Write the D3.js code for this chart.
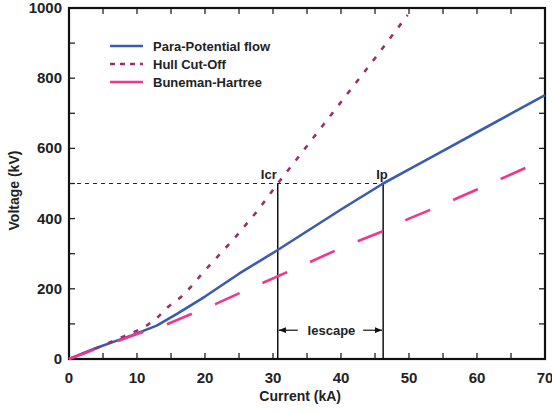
<!DOCTYPE html>
<html>
<head>
<meta charset="utf-8">
<script src="https://cdn.jsdelivr.net/npm/d3@7"></script>
<style>
  body { margin: 0; background: #fff; }
  text { font-family: "Liberation Sans", Arial, sans-serif; font-weight: bold; }
</style>
</head>
<body>
<div id="chart"></div>
<script>
// curves (kA, kV)
var paraI = [0, 3.8, 9.3, 12.9, 16, 20, 25, 30.4, 35, 40, 46.2, 50, 55, 60, 65, 70];
var paraV = [0, 30, 68, 95, 130, 178, 243, 307, 364, 426, 500, 540, 593, 646, 699, 752];

var hullI = [0, 3, 6, 9.3, 11, 12.9, 14.6, 16.5, 18.2, 19.7, 24.6, 27.8, 30.7, 35, 40, 45, 49.8];
var hullV = [0, 22, 47, 75, 89, 116, 149, 177, 211, 246, 350, 424, 500, 607, 732, 857, 980];

var bhI = [0, 5, 10, 14.4, 18, 21.6, 25, 32.4, 40, 46.9, 50, 54, 60, 68.4];
var bhV = [0, 36, 71, 99, 128, 157, 187, 250, 316, 370, 400, 432, 483, 555];

var Icr = 30.7, Ip = 46.2, Vop = 500;

var xTicks = [0, 10, 20, 30, 40, 50, 60, 70];
var yTicks = [0, 200, 400, 600, 800, 1000];

var margin = {top: 8, right: 7, bottom: 54, left: 69},
    width = 552 - margin.left - margin.right,
    height = 413 - margin.top - margin.bottom;

var svg = d3.select("#chart")
  .append("svg")
    .attr("width", 552)
    .attr("height", 413)
  .append("g")
    .attr("transform", "translate(" + margin.left + "," + margin.top + ")");

var x = d3.scaleLinear().domain([0, 70]).range([0, width]);
var y = d3.scaleLinear().domain([0, 1000]).range([height, 0]);

// inward ticks on all four sides
var xMinor = d3.range(0, 71, 5), yMinor = d3.range(0, 1001, 100);
function ticks(g, vals, fn) {
  g.selectAll("line").data(vals).enter().append("line")
    .attr("stroke", "#222").attr("stroke-width", 1.3)
    .each(fn);
}
ticks(svg.append("g"), xMinor, function(d) {
  d3.select(this).attr("x1", x(d)).attr("x2", x(d)).attr("y1", height).attr("y2", height - 6);
});
ticks(svg.append("g"), xMinor, function(d) {
  d3.select(this).attr("x1", x(d)).attr("x2", x(d)).attr("y1", 0).attr("y2", 6);
});
ticks(svg.append("g"), yMinor, function(d) {
  d3.select(this).attr("x1", 0).attr("x2", 6).attr("y1", y(d)).attr("y2", y(d));
});
ticks(svg.append("g"), yMinor, function(d) {
  d3.select(this).attr("x1", width).attr("x2", width - 6).attr("y1", y(d)).attr("y2", y(d));
});

// tick labels
svg.append("g").selectAll("text").data(xTicks).enter().append("text")
  .attr("x", d => x(d)).attr("y", height + 24)
  .attr("text-anchor", "middle").attr("font-size", 15).attr("fill", "#222")
  .text(d => d);
svg.append("g").selectAll("text").data(yTicks).enter().append("text")
  .attr("x", -7).attr("y", d => y(d) + 5)
  .attr("text-anchor", "end").attr("font-size", 15).attr("fill", "#222")
  .text(d => d);

// frame
svg.append("rect")
  .attr("width", width).attr("height", height)
  .attr("fill", "none").attr("stroke", "#111").attr("stroke-width", 2.2);

// axis titles
svg.append("text")
  .attr("x", x(34)).attr("y", height + 42)
  .attr("text-anchor", "middle").attr("font-size", 14).attr("fill", "#222")
  .text("Current (kA)");
svg.append("text")
  .attr("transform", "translate(" + (-50) + "," + y(480) + ") rotate(-90)")
  .attr("text-anchor", "middle").attr("font-size", 14).attr("fill", "#222")
  .text("Voltage (kV)");

// operating lines
svg.append("line")
  .attr("x1", x(0)).attr("x2", x(Ip)).attr("y1", y(Vop)).attr("y2", y(Vop))
  .attr("stroke", "#222").attr("stroke-width", 1.2).attr("stroke-dasharray", "4,4");
[Icr, Ip].forEach(function(v) {
  svg.append("line")
    .attr("x1", x(v)).attr("x2", x(v)).attr("y1", y(0)).attr("y2", y(Vop))
    .attr("stroke", "#111").attr("stroke-width", 1.5);
});
svg.append("text").attr("x", x(Icr) - 1).attr("y", y(Vop) - 5)
  .attr("text-anchor", "end").attr("font-size", 13).attr("fill", "#222").text("Icr");
svg.append("text").attr("x", x(Ip) - 7).attr("y", y(Vop) - 5)
  .attr("font-size", 13).attr("fill", "#222").text("Ip");

// escape current arrow
var defs = svg.append("defs");
defs.append("marker").attr("id", "ah")
  .attr("viewBox", "0 0 10 10").attr("refX", 10).attr("refY", 5)
  .attr("markerWidth", 6).attr("markerHeight", 6).attr("orient", "auto-start-reverse")
  .append("path").attr("d", "M0,1L10,5L0,9Z").attr("fill", "#111");
var yEsc = y(82);
svg.append("line")
  .attr("x1", x(Icr) + 20).attr("x2", x(Icr) + 1).attr("y1", yEsc).attr("y2", yEsc)
  .attr("stroke", "#111").attr("stroke-width", 1.2).attr("marker-end", "url(#ah)");
svg.append("line")
  .attr("x1", x(Ip) - 20).attr("x2", x(Ip) - 1).attr("y1", yEsc).attr("y2", yEsc)
  .attr("stroke", "#111").attr("stroke-width", 1.2).attr("marker-end", "url(#ah)");
svg.append("text").attr("x", (x(Icr) + x(Ip)) / 2 + 1).attr("y", yEsc + 5)
  .attr("text-anchor", "middle").attr("font-size", 13).attr("fill", "#222").text("Iescape");

// curves
var line = d3.line().x(d => x(d[0])).y(d => y(d[1]));
function pairs(a, b) { return a.map((v, i) => [v, b[i]]); }

var series = [
  {name: "Para-Potential flow", data: pairs(paraI, paraV), color: "#3a5bb0", dash: null, legendDash: null},
  {name: "Hull Cut-Off", data: pairs(hullI, hullV), color: "#9b2f6a", dash: "5,9", legendDash: "5,5"},
  {name: "Buneman-Hartree", data: pairs(bhI, bhV), color: "#f0368f", dash: "27,25", legendDash: null}
];

svg.selectAll(".curve").data(series).enter().append("path")
  .attr("class", "curve")
  .attr("d", d => line(d.data))
  .attr("fill", "none")
  .attr("stroke", d => d.color)
  .attr("stroke-width", 2.6)
  .attr("stroke-linejoin", "round")
  .attr("stroke-dasharray", d => d.dash);

// legend
var legend = svg.append("g").attr("transform", "translate(" + (110 - margin.left) + "," + (46 - margin.top) + ")");
var items = legend.selectAll("g").data(series).enter().append("g")
  .attr("transform", (d, i) => "translate(0," + (i * 18) + ")");
items.append("line")
  .attr("x1", 0).attr("x2", 33).attr("y1", 0).attr("y2", 0)
  .attr("stroke", d => d.color).attr("stroke-width", 2.6)
  .attr("stroke-dasharray", d => d.legendDash);
items.append("text")
  .attr("x", 43).attr("y", 5)
  .attr("font-size", 13).attr("fill", "#222")
  .text(d => d.name);
</script>
</body>
</html>
